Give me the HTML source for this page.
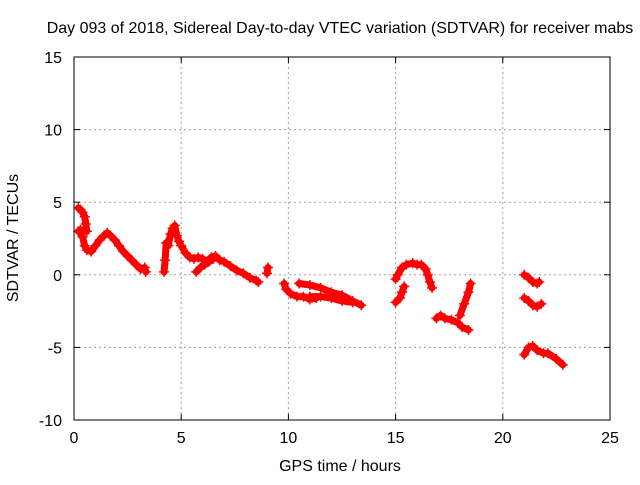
<!DOCTYPE html>
<html><head><meta charset="utf-8"><style>
body{margin:0;background:#fff}
text{font-family:"Liberation Sans",sans-serif;font-size:16px;fill:#000}
</style></head><body>
<svg id="c" width="640" height="480" xmlns="http://www.w3.org/2000/svg">
<text x="340" y="33" text-anchor="middle">Day 093 of 2018, Sidereal Day-to-day VTEC variation (SDTVAR) for receiver mabs</text>
<text x="340" y="471" text-anchor="middle">GPS time / hours</text>
<text transform="translate(18,238) rotate(-90)" text-anchor="middle">SDTVAR / TECUs</text>
<g id="grid"></g><g id="marks"></g>
<rect x="74" y="57" width="536" height="363" fill="none" stroke="#000" stroke-width="1"/>
</svg>
<script>
const xTicks=[0,5,10,15,20,25];
const yTicks=[-10,-5,0,5,10,15];
const segments=[
[[0.2,4.6],[0.3,4.5],[0.4,4.3],[0.5,4.0],[0.55,3.5],[0.6,3.0]],
[[0.2,3.0],[0.3,3.1],[0.4,2.6],[0.5,2.0],[0.6,1.7],[0.8,1.6],[1.0,2.0],[1.2,2.4],[1.4,2.7],[1.55,2.9],[1.7,2.7],[1.9,2.4],[2.1,2.0],[2.3,1.6],[2.5,1.3],[2.7,1.0],[2.9,0.7],[3.1,0.4],[3.3,0.5],[3.35,0.2]],
[[4.2,0.2],[4.25,1.0],[4.3,2.2],[4.4,2.0],[4.5,2.8],[4.6,3.2],[4.7,3.4],[4.8,2.7],[4.9,2.3],[5.0,2.0],[5.2,1.5],[5.4,1.2],[5.6,1.1],[5.8,1.2],[6.0,1.1],[6.2,0.9],[6.4,1.2],[6.6,1.3],[6.8,1.0],[7.0,0.9],[7.3,0.6],[7.6,0.3],[7.9,0.1],[8.2,-0.2],[8.5,-0.4],[8.6,-0.5]],
[[5.7,0.2],[5.9,0.5],[6.1,0.7],[6.3,0.9],[6.5,1.1]],
[[9.0,0.1],[9.05,0.5]],
[[9.8,-0.6],[9.9,-1.0],[10.1,-1.3],[10.4,-1.5],[10.7,-1.5],[11.0,-1.7],[11.3,-1.6]],
[[10.5,-0.6],[11.0,-0.7],[11.5,-0.9],[12.0,-1.2],[12.5,-1.4],[13.0,-1.8],[13.4,-2.1]],
[[11.0,-1.5],[11.5,-1.5],[12.0,-1.6],[12.5,-1.8],[13.0,-1.9]],
[[15.0,-1.9],[15.2,-1.6],[15.3,-1.2],[15.4,-0.8]],
[[15.0,-0.3],[15.1,0],[15.3,0.5],[15.5,0.7],[15.8,0.8],[16.0,0.7],[16.2,0.7],[16.4,0.4],[16.5,0.0],[16.6,-0.5],[16.7,-0.9]],
[[16.9,-3.0],[17.1,-2.8],[17.3,-3.0],[17.6,-3.1],[17.9,-3.3],[18.1,-3.6],[18.4,-3.8]],
[[18.0,-2.8],[18.2,-2.0],[18.4,-1.2],[18.5,-0.6]],
[[21.0,0.0],[21.2,-0.2],[21.4,-0.5],[21.6,-0.6],[21.7,-0.5]],
[[21.0,-1.6],[21.2,-1.8],[21.4,-2.1],[21.6,-2.2],[21.8,-2.0]],
[[21.0,-5.5],[21.2,-5.0],[21.4,-4.9],[21.6,-5.2],[21.9,-5.4],[22.1,-5.4],[22.5,-5.8],[22.8,-6.2]]
];
const NS="http://www.w3.org/2000/svg";
const X=h=>74+h*536/25, Y=v=>420-(v+10)*363/25;
const g=document.getElementById('grid'), m=document.getElementById('marks');
function el(t,a,p){const e=document.createElementNS(NS,t);for(const k in a)e.setAttribute(k,a[k]);p.appendChild(e);return e;}
xTicks.forEach(t=>{
 if(t>0&&t<25){const l=el('line',{x1:X(t),x2:X(t),y1:57,y2:420,stroke:'#a0a0a0','stroke-dasharray':'2,3'},g);
 
 }
 el('line',{x1:X(t),x2:X(t),y1:420,y2:414,stroke:'#000'},g);
 el('line',{x1:X(t),x2:X(t),y1:57,y2:63,stroke:'#000'},g);
 const tx=el('text',{x:X(t),y:443,'text-anchor':'middle'},g);tx.textContent=t;
 
 
});
yTicks.forEach(t=>{
 if(t>-10&&t<15){const l=el('line',{x1:74,x2:610,y1:Y(t),y2:Y(t),stroke:'#a0a0a0','stroke-dasharray':'2,3'},g);
 
 }
 el('line',{x1:74,x2:80,y1:Y(t),y2:Y(t),stroke:'#000'},g);
 el('line',{x1:610,x2:604,y1:Y(t),y2:Y(t),stroke:'#000'},g);
 const tx=el('text',{x:62,y:Y(t)+6,'text-anchor':'end'},g);tx.textContent=t;
 
 
});
segments.forEach(s=>{
 const pl=el('polyline',{points:s.map(p=>X(p[0])+','+Y(p[1])).join(' '),fill:'none',stroke:'#f00','stroke-width':7,'stroke-linejoin':'round','stroke-linecap':'round'},m);
 
 
 s.forEach(p=>{
  const x=X(p[0]),y=Y(p[1]);
  const pt=el('path',{d:`M${x-5},${y}H${x+5}M${x},${y-5}V${y+5}`,stroke:'#f00','stroke-width':1.5},m);
  
  
 });
});
</script>
</body></html>
